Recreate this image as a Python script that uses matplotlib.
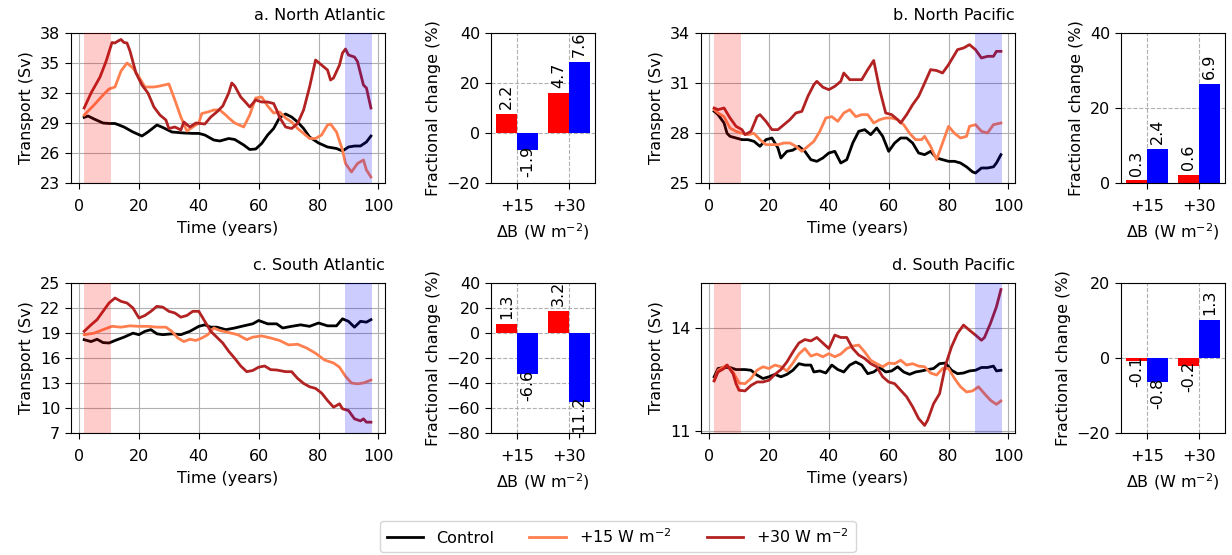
import numpy as np
import matplotlib
matplotlib.use("Agg")
import matplotlib.pyplot as plt

plt.rcParams['font.family'] = ['DejaVu Sans']
plt.rcParams['font.size'] = 11.5

# ---------------- data ----------------
# Panel a: North Atlantic
a_ctrl_t = [1.7, 3, 5, 8, 10, 12, 15, 18, 21, 23, 26, 28, 31, 35, 38, 40, 42, 45, 47, 50, 52, 55, 57, 59, 61, 63, 65, 67, 69, 71, 73, 75, 77, 80, 83, 86, 88, 90, 92, 94, 96, 97.5]
a_ctrl_v = [29.56, 29.7, 29.4, 29.0, 28.95, 28.95, 28.6, 28.1, 27.7, 28.1, 28.8, 28.55, 28.1, 28.0, 27.96, 27.96, 27.8, 27.3, 27.2, 27.45, 27.35, 26.8, 26.35, 26.4, 26.95, 27.8, 28.45, 29.55, 29.9, 29.6, 29.1, 28.45, 27.6, 27.0, 26.6, 26.45, 26.2, 26.6, 26.7, 26.7, 27.1, 27.7]
a_p15_t = [1.7, 5, 8, 10, 12, 14, 16, 18, 20, 22, 25, 27, 30, 32, 34, 36, 38, 40, 41, 43, 45, 47, 49, 50, 52, 55, 57, 59, 61, 63, 65, 67, 69, 71, 73, 75, 77, 79, 81, 83, 84, 86, 88, 89, 91, 93, 95, 96, 97.5]
a_p15_v = [29.8, 30.8, 31.8, 32.4, 32.6, 34.2, 35.0, 34.5, 33.6, 32.6, 32.6, 32.7, 32.9, 31.3, 29.6, 28.2, 28.6, 29.0, 29.95, 30.1, 30.3, 30.3, 29.8, 29.5, 29.0, 28.6, 29.8, 31.5, 31.6, 30.7, 30.0, 30.1, 29.5, 29.1, 28.45, 27.96, 27.45, 27.45, 27.8, 28.8, 28.9, 28.1, 26.3, 24.95, 24.1, 24.95, 25.3, 24.3, 23.6]
a_p30_t = [1.7, 4, 7, 9, 11, 12, 13, 14, 15, 16, 17, 19, 21, 23, 25, 27, 29, 30, 32, 34, 35, 37, 39, 42, 44, 46, 48, 50, 51, 52, 54, 56, 57, 59, 61, 63, 65, 66, 67, 69, 71, 73, 75, 77, 79, 81, 83, 84, 85, 87, 88, 89, 90, 92, 93, 95, 96, 97.5]
a_p30_v = [30.5, 32.0, 33.6, 35.15, 37.05, 37.0, 37.2, 37.35, 37.05, 37.0, 36.2, 34.0, 32.8, 32.0, 30.6, 29.8, 29.3, 28.45, 28.6, 28.3, 29.1, 28.6, 29.0, 28.9, 29.6, 30.1, 30.7, 32.0, 33.0, 32.7, 31.6, 30.95, 30.6, 31.3, 31.1, 31.1, 30.95, 30.3, 29.55, 28.6, 28.45, 28.95, 30.3, 32.6, 35.3, 34.8, 34.3, 33.3, 33.5, 34.8, 36.0, 36.4, 35.8, 35.6, 35.15, 32.8, 32.5, 30.5]

# Panel b: North Pacific
b_ctrl_t = [1.7, 3, 5, 6, 7, 9, 11, 13, 15, 17, 19, 21, 23, 24, 26, 28, 30, 32, 34, 36, 38, 40, 42, 44, 46, 48, 50, 52, 54, 56, 58, 60, 62, 64, 66, 68, 70, 72, 74, 76, 78, 80, 82, 84, 86, 88, 89, 91, 93, 95, 96, 97.5]
b_ctrl_v = [29.3, 29.1, 28.6, 27.98, 27.8, 27.7, 27.6, 27.6, 27.5, 27.2, 27.6, 27.7, 27.1, 26.5, 26.9, 26.97, 27.2, 26.9, 26.4, 26.3, 26.5, 26.8, 26.9, 26.2, 26.4, 27.4, 28.1, 28.2, 27.9, 28.3, 27.8, 26.9, 27.4, 27.7, 27.7, 27.4, 26.8, 26.7, 26.9, 26.5, 26.4, 26.3, 26.3, 26.2, 25.97, 25.67, 25.6, 25.9, 25.9, 25.97, 26.2, 26.7]
b_p15_t = [1.7, 3, 5, 7, 9, 11, 13, 15, 17, 19, 21, 23, 25, 27, 29, 31, 33, 35, 37, 39, 41, 43, 45, 47, 49, 51, 53, 55, 57, 59, 61, 63, 65, 67, 69, 71, 72, 74, 76, 78, 80, 82, 84, 86, 87, 89, 91, 93, 95, 97.5]
b_p15_v = [29.4, 29.2, 28.98, 28.3, 28.1, 27.98, 27.9, 27.98, 27.6, 27.3, 27.3, 27.3, 27.4, 27.4, 27.2, 26.9, 27.2, 27.5, 28.1, 28.9, 28.98, 28.7, 29.2, 29.4, 28.98, 29.1, 29.1, 28.6, 28.8, 28.9, 28.9, 28.8, 28.5, 27.98, 27.6, 27.6, 27.8, 27.2, 26.4, 27.4, 28.4, 27.98, 27.7, 27.8, 28.4, 28.5, 28.1, 28.0, 28.5, 28.6]
b_p30_t = [1.7, 3, 5, 7, 9, 11, 12, 14, 16, 17, 19, 21, 23, 25, 27, 29, 31, 33, 35, 36, 38, 40, 42, 44, 45, 47, 49, 51, 53, 55, 57, 59, 61, 63, 64, 66, 68, 70, 72, 74, 76, 78, 80, 82, 83, 85, 87, 89, 91, 93, 95, 96, 97.5]
b_p30_v = [29.5, 29.4, 29.5, 28.9, 28.4, 28.2, 27.9, 28.1, 28.98, 29.1, 28.7, 28.2, 28.2, 28.5, 28.8, 29.2, 29.3, 30.2, 30.9, 31.1, 30.75, 30.6, 30.8, 31.1, 31.6, 31.2, 31.2, 31.2, 31.8, 32.35, 30.6, 29.2, 29.1, 28.8, 28.6, 29.1, 29.7, 30.2, 30.99, 31.8, 31.75, 31.6, 32.1, 32.7, 33.0, 33.1, 33.3, 33.0, 32.5, 32.6, 32.6, 32.9, 32.9]

# Panel c: South Atlantic
c_ctrl_t = [1.7, 4, 6, 8, 10, 12, 15, 18, 20, 22, 24, 26, 28, 31, 34, 37, 40, 42, 44, 46, 49, 52, 55, 58, 60, 63, 66, 68, 71, 74, 77, 80, 83, 86, 88, 90, 92, 94, 96, 97.5]
c_ctrl_v = [18.2, 17.97, 18.25, 17.85, 17.8, 18.1, 18.5, 18.98, 18.8, 19.2, 19.4, 18.9, 18.8, 18.9, 18.8, 19.2, 19.8, 19.98, 19.7, 19.7, 19.4, 19.6, 19.86, 20.1, 20.5, 20.1, 20.1, 19.6, 19.8, 19.98, 19.8, 20.2, 19.86, 19.86, 20.7, 20.4, 19.7, 20.4, 20.3, 20.6]
c_p15_t = [1.7, 5, 8, 11, 14, 17, 20, 23, 26, 29, 31, 33, 35, 37, 39, 41, 43, 45, 47, 50, 53, 56, 58, 61, 64, 67, 70, 73, 76, 79, 82, 85, 87, 89, 91, 93, 95, 97.5]
c_p15_v = [18.8, 18.98, 19.4, 19.8, 19.7, 19.86, 19.8, 19.8, 19.7, 19.7, 19.2, 18.4, 17.97, 18.25, 18.1, 18.4, 18.8, 19.6, 19.3, 19.05, 18.8, 18.2, 18.5, 18.65, 18.4, 18.1, 17.57, 17.65, 17.2, 16.57, 15.76, 15.4, 14.9, 13.8, 13.0, 12.9, 13.0, 13.35]
c_p30_t = [1.7, 4, 6, 8, 10, 12, 14, 16, 18, 20, 22, 24, 26, 28, 30, 32, 34, 36, 38, 40, 42, 44, 46, 48, 50, 52, 54, 56, 58, 60, 62, 64, 66, 69, 71, 73, 75, 77, 79, 81, 83, 85, 87, 88, 90, 92, 94, 95, 96, 97.5]
c_p30_v = [19.2, 19.98, 20.6, 21.6, 22.6, 23.2, 22.8, 22.6, 22.0, 20.8, 21.1, 21.6, 22.2, 22.1, 21.6, 21.4, 20.9, 21.1, 21.6, 21.6, 20.4, 19.2, 18.5, 17.8, 16.8, 15.96, 15.04, 14.36, 14.5, 14.9, 15.04, 14.6, 14.56, 14.36, 14.36, 13.55, 12.95, 12.55, 12.35, 11.8, 10.9, 10.1, 10.5, 9.9, 9.7, 8.7, 8.45, 8.7, 8.3, 8.3]

# Panel d: South Pacific
d_ctrl_t = [1.7, 3, 5, 7, 9, 12, 14, 16, 18, 20, 22, 24, 26, 28, 30, 32, 34, 35, 37, 39, 41, 43, 45, 47, 49, 51, 53, 55, 57, 59, 61, 63, 65, 67, 69, 71, 73, 75, 77, 79, 81, 83, 85, 87, 89, 91, 93, 95, 96, 97.5]
d_ctrl_v = [12.58, 12.82, 12.85, 12.85, 12.79, 12.79, 12.77, 12.63, 12.53, 12.58, 12.65, 12.58, 12.65, 12.77, 12.96, 12.92, 12.92, 12.72, 12.75, 12.69, 12.92, 12.79, 12.72, 12.92, 13.01, 12.92, 12.67, 12.72, 12.85, 12.72, 12.75, 12.87, 12.72, 12.65, 12.72, 12.75, 12.79, 12.82, 12.96, 12.98, 12.77, 12.67, 12.69, 12.75, 12.77, 12.85, 12.85, 12.89, 12.75, 12.77]
d_p15_t = [1.7, 3, 5, 6, 8, 10, 12, 14, 16, 18, 20, 22, 24, 26, 28, 30, 32, 34, 36, 38, 40, 42, 44, 46, 48, 50, 52, 54, 56, 58, 60, 62, 64, 66, 68, 70, 72, 74, 76, 78, 80, 82, 84, 86, 88, 90, 92, 94, 96, 97.5]
d_p15_v = [12.48, 12.77, 12.87, 12.92, 12.72, 12.4, 12.38, 12.53, 12.77, 12.87, 12.82, 12.92, 12.87, 12.75, 12.98, 13.24, 13.4, 13.18, 13.24, 13.16, 13.25, 13.16, 13.24, 13.4, 13.47, 13.5, 13.3, 13.06, 12.96, 12.87, 12.98, 12.96, 13.06, 12.92, 12.96, 12.89, 12.87, 12.69, 12.63, 12.82, 12.82, 12.53, 12.29, 12.14, 12.17, 12.29, 12.09, 11.9, 11.78, 11.88]
d_p30_t = [1.7, 3, 5, 6, 8, 9, 10, 12, 14, 16, 18, 20, 22, 24, 26, 28, 30, 32, 34, 36, 38, 40, 42, 44, 46, 48, 50, 52, 54, 56, 58, 60, 62, 64, 66, 68, 70, 72, 73, 75, 77, 79, 81, 83, 85, 87, 89, 91, 92, 94, 96, 97.5]
d_p30_v = [12.46, 12.72, 12.82, 12.92, 12.67, 12.38, 12.19, 12.17, 12.33, 12.43, 12.43, 12.48, 12.65, 12.79, 13.01, 13.3, 13.56, 13.66, 13.62, 13.72, 13.56, 13.4, 13.79, 13.72, 13.72, 13.4, 13.21, 13.11, 12.96, 12.87, 12.58, 12.43, 12.38, 12.19, 12.0, 11.71, 11.37, 11.17, 11.32, 11.8, 12.09, 12.92, 13.45, 13.84, 14.08, 13.93, 13.79, 13.64, 13.72, 14.13, 14.61, 15.11]

# Bar charts: fractional change (%) and labels (absolute change, Sv)
forcings = ["+15", "+30"]
a_first = [7.7, 16.0];  a_last = [-6.9, 28.5]
a_first_lbl = ["2.2", "4.7"];  a_last_lbl = ["-1.9", "7.6"]
b_first = [0.7, 2.1];  b_last = [9.0, 26.4]
b_first_lbl = ["0.3", "0.6"];  b_last_lbl = ["2.4", "6.9"]
c_first = [7.2, 17.7];  c_last = [-33.0, -55.0]
c_first_lbl = ["1.3", "3.2"];  c_last_lbl = ["-6.6", "-11.2"]
d_first = [-0.7, -2.1];  d_last = [-6.5, 10.1]
d_first_lbl = ["-0.1", "-0.2"];  d_last_lbl = ["-0.8", "1.3"]

titles = ["a. North Atlantic", "b. North Pacific", "c. South Atlantic", "d. South Pacific"]
yticks_list = [[23, 26, 29, 32, 35, 38], [25, 28, 31, 34], [7, 10, 13, 16, 19, 22, 25], [11, 14]]
ylims = [(23, 38), (25, 34), (7, 25), (10.95, 15.3)]
bar_ylims = [(-20, 40), (0, 40), (-80, 40), (-20, 20)]
bar_yticks = [[-20, 0, 20, 40], [0, 20, 40], [-80, -60, -40, -20, 0, 20, 40], [-20, 0, 20]]
spans = [(1.5, 10.5), (88.8, 97.7)]

series = [
    [(a_ctrl_t, a_ctrl_v), (a_p15_t, a_p15_v), (a_p30_t, a_p30_v)],
    [(b_ctrl_t, b_ctrl_v), (b_p15_t, b_p15_v), (b_p30_t, b_p30_v)],
    [(c_ctrl_t, c_ctrl_v), (c_p15_t, c_p15_v), (c_p30_t, c_p30_v)],
    [(d_ctrl_t, d_ctrl_v), (d_p15_t, d_p15_v), (d_p30_t, d_p30_v)],
]
bars = [
    (a_first, a_last, a_first_lbl, a_last_lbl),
    (b_first, b_last, b_first_lbl, b_last_lbl),
    (c_first, c_last, c_first_lbl, c_last_lbl),
    (d_first, d_last, d_first_lbl, d_last_lbl),
]
line_colors = ["black", "#ff7f4f", "#b22222"]
line_labels = ["Control", "+15 W m$^{-2}$", "+30 W m$^{-2}$"]

# ---------------- figure ----------------
W, H = 1232, 555
fig = plt.figure(figsize=(W / 100, H / 100), dpi=100)

line_left = [71, 701]
bar_left = [491, 1121]
tops = [33, 283]
lw_px, bw_px, h_px = 314, 104, 150

handles = None
for i in range(4):
    row, col = divmod(i, 2)
    top = tops[row]
    ax = fig.add_axes([line_left[col] / W, 1 - (top + h_px) / H, lw_px / W, h_px / H])
    hs = []
    for (t, v), c, lab in zip(series[i], line_colors, line_labels):
        h, = ax.plot(t, v, color=c, lw=2, label=lab, zorder=2)
        hs.append(h)
    handles = hs
    ax.axvspan(*spans[0], color="red", alpha=0.2, lw=0, zorder=3)
    ax.axvspan(*spans[1], color="blue", alpha=0.2, lw=0, zorder=3)
    ax.set_xlim(-2.7, 102.2)
    ax.set_xticks([0, 20, 40, 60, 80, 100])
    ax.set_ylim(*ylims[i])
    ax.set_yticks(yticks_list[i])
    ax.grid(True, zorder=0)
    ax.set_axisbelow(True)
    ax.tick_params(axis="x", length=4.2, pad=7.5)
    ax.tick_params(axis="y", length=4.2)
    ax.set_ylabel("Transport (Sv)")
    ax.set_xlabel("Time (years)", labelpad=5)
    ax.set_title(titles[i], loc="right", fontsize=11.5, pad=9)

    bx = fig.add_axes([bar_left[col] / W, 1 - (top + h_px) / H, bw_px / W, h_px / H])
    first, last, flbl, llbl = bars[i]
    xpos = np.arange(len(forcings))
    bx.bar(xpos - 0.2, first, width=0.4, color="red", zorder=2)
    bx.bar(xpos + 0.2, last, width=0.4, color="blue", zorder=2)
    for xs, vals, lbls in [(xpos - 0.2, first, flbl), (xpos + 0.2, last, llbl)]:
        for xx, vv, ll in zip(xs, vals, lbls):
            bx.annotate(ll, (xx, vv), xytext=(0, 3.5), textcoords="offset points",
                        rotation=90, ha="center", va="bottom" if vv > 0 else "top",
                        fontsize=11.5, zorder=4)
    bx.set_xlim(-0.5, 1.5)
    bx.set_xticks(xpos)
    bx.set_xticklabels(forcings)
    bx.set_ylim(*bar_ylims[i])
    bx.set_yticks(bar_yticks[i])
    bx.grid(True, ls="--", zorder=0)
    bx.set_axisbelow(True)
    bx.tick_params(axis="x", length=4.2, pad=7.5)
    bx.tick_params(axis="y", length=4.2)
    bx.set_ylabel("Fractional change (%)")
    bx.set_xlabel("ΔB (W m$^{-2}$)", labelpad=5)

fig.legend(handles=handles, labels=line_labels, loc="lower center", ncol=3,
           bbox_to_anchor=(0.5015, -0.009), fontsize=11.5, handlelength=2.3,
           columnspacing=2.2)

fig.savefig("out.png", dpi=100)
